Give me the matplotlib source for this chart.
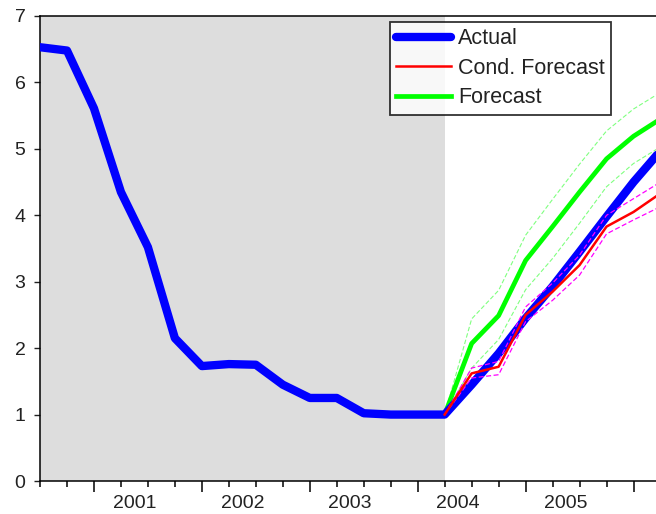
import matplotlib
matplotlib.use('Agg')
import matplotlib.pyplot as plt
import numpy as np

plt.rcParams['font.family'] = ['Liberation Sans', 'DejaVu Sans']

# quarterly observations, first one is 2000Q3
actual = [6.53, 6.48, 5.61, 4.35, 3.52, 2.15, 1.73, 1.76, 1.75, 1.45, 1.25, 1.25,
          1.02, 1.00, 1.00, 1.00, 1.45, 1.92, 2.45, 2.93, 3.45, 3.98, 4.50, 4.97]

# forecasts start at 2004Q2 (index 15)
fc_start = 15
forecast = [1.00, 2.07, 2.49, 3.32, 3.83, 4.35, 4.85, 5.19, 5.45]
fc_upper = [1.00, 2.44, 2.87, 3.70, 4.24, 4.77, 5.27, 5.60, 5.85]
fc_lower = [1.00, 1.70, 2.13, 2.88, 3.35, 3.88, 4.43, 4.78, 5.03]
cond = [1.00, 1.62, 1.72, 2.50, 2.85, 3.25, 3.83, 4.05, 4.33]
cond_upper = [1.00, 1.70, 1.80, 2.62, 2.98, 3.40, 4.00, 4.25, 4.50]
cond_lower = [1.00, 1.55, 1.60, 2.40, 2.72, 3.10, 3.72, 3.93, 4.13]

years = ['2001', '2002', '2003', '2004', '2005']
year_q1 = [2, 6, 10, 14, 18]  # index of Q1 for each labelled year

t = np.arange(len(actual))
tf = np.arange(fc_start, fc_start + len(forecast))

fig = plt.figure(figsize=(6.56, 5.14), dpi=100)
ax = fig.add_axes([40 / 656, 33 / 514, 616 / 656, 465 / 514])

ax.axvspan(0, fc_start, color='#dddddd', lw=0, zorder=0)

ax.plot(tf, fc_upper, color='#80ff80', lw=0.8, ls=(0, (4, 2)), zorder=2)
ax.plot(tf, fc_lower, color='#80ff80', lw=0.8, ls=(0, (4, 2)), zorder=2)
ax.plot(tf, forecast, color='#00ff00', lw=3.4, zorder=3, label='Forecast',
        solid_joinstyle='round')
ax.plot(t, actual, color='#0000ff', lw=6, zorder=4, label='Actual',
        solid_joinstyle='round', solid_capstyle='round')
ax.plot(tf, cond_upper, color='#ff00ff', lw=0.9, ls=(0, (4, 2)), zorder=5)
ax.plot(tf, cond_lower, color='#ff00ff', lw=0.9, ls=(0, (4, 2)), zorder=5)
ax.plot(tf, cond, color='#ff0000', lw=1.8, zorder=6, label='Cond. Forecast')

ax.set_xlim(0, (656 - 39.5) / 27)
ax.set_ylim(0, 7)
ax.set_yticks(range(8))
ax.tick_params(axis='y', direction='out', length=4.5, width=1, pad=6,
               labelsize=14, colors='#222222')

ax.set_xticks(year_q1 + [22])
ax.set_xticks(np.arange(0, 23), minor=True)
ax.tick_params(axis='x', which='major', direction='out', length=8, width=1.1,
               labelbottom=False)
ax.tick_params(axis='x', which='minor', direction='out', length=4.5, width=1.1)

sec = ax.secondary_xaxis('bottom')
sec.set_xticks([q + 1.5 for q in year_q1])
sec.set_xticklabels(years)
sec.tick_params(length=0, pad=10, labelsize=14, colors='#222222')
sec.spines['bottom'].set_visible(False)

for s in ['left', 'top', 'bottom']:
    ax.spines[s].set_linewidth(1.1)
ax.spines['right'].set_visible(False)

h, l = ax.get_legend_handles_labels()
order = [l.index('Actual'), l.index('Cond. Forecast'), l.index('Forecast')]
leg = ax.legend([h[i] for i in order], [l[i] for i in order],
                loc='upper left', bbox_to_anchor=((390 - 40) / 616, (481 - 22) / 465),
                fontsize=15.5, frameon=True, fancybox=False, edgecolor='black',
                handlelength=2.55, handletextpad=0.3, labelspacing=0.39,
                borderpad=0.3, borderaxespad=0)
leg.get_frame().set_linewidth(1.3)
for txt in leg.get_texts():
    txt.set_color('#222222')
leg.set_zorder(10)

fig.savefig('out.png', dpi=100)
